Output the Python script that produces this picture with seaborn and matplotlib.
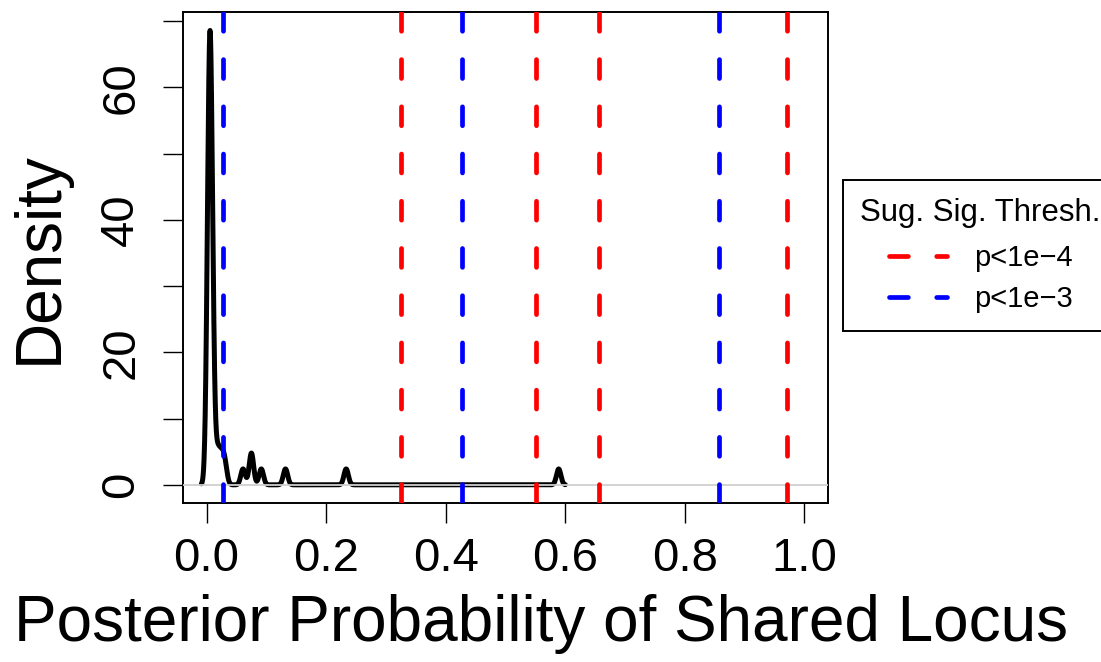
import numpy as np
import matplotlib
matplotlib.use("Agg")
import matplotlib.pyplot as plt
import seaborn as sns

# posterior probabilities of a shared locus
core_pp = [0.0025, 0.0025, 0.003, 0.003, 0.0035, 0.0035, 0.004, 0.004, 0.0045, 0.0045,
           0.005, 0.005, 0.005, 0.0055, 0.0055, 0.0055, 0.0055, 0.006, 0.006, 0.006,
           0.0065, 0.0065, 0.007, 0.007, 0.0075, 0.0075, 0.008, 0.008, 0.0085, 0.009,
           0.0095, 0.0095, 0.010]
shoulder_pp = [0.016, 0.019, 0.023, 0.027, 0.031]
tail_pp = [0.061, 0.075, 0.075, 0.0915, 0.132, 0.2335, 0.589]

# suggestive significance thresholds
thresh_p1e4 = [0.325, 0.551, 0.657, 0.971]
thresh_p1e3 = [0.028, 0.427, 0.857]

x_ticks = [0.0, 0.2, 0.4, 0.6, 0.8, 1.0]
x_labels = ["0.0", "0.2", "0.4", "0.6", "0.8", "1.0"]
y_ticks = [0, 10, 20, 30, 40, 50, 60, 70]
y_labels = ["0", "", "20", "", "40", "", "60", ""]

kde_bw = 0.0037  # bandwidth of the gaussian kernel

pp = np.array(core_pp + shoulder_pp + tail_pp)

sns.set_style("white")
plt.rcParams['font.family'] = ['Liberation Sans', 'DejaVu Sans']
plt.rcParams['text.color'] = "black"
plt.rcParams['axes.labelcolor'] = "black"

fig = plt.figure(figsize=(11.01, 6.62), dpi=100)
ax = fig.add_axes([0.1659, 0.2406, 0.7523 - 0.1659, 0.9823 - 0.2406])

#density curve, the factor is relative to the sample std like R's bw
sns.kdeplot(x=pp, ax=ax, bw_method=kde_bw / np.std(pp, ddof=1), cut=3, gridsize=4000,
            color="black", linewidth=3.6, zorder=2)
ax.lines[0].set_solid_capstyle("round")
ax.lines[0].set_solid_joinstyle("round")

ax.axhline(0, color="#cfcfcf", linewidth=1.3, zorder=3)

dash = (0, (4, 6))
for i, t in enumerate(thresh_p1e4):
    ax.axvline(t, color="#ff0000", linewidth=3.4, linestyle=dash, dash_capstyle="round",
               zorder=4, label="p<1e\u22124" if i == 0 else "_nolegend_")
for i, t in enumerate(thresh_p1e3):
    ax.axvline(t, color="#0000ff", linewidth=3.4, linestyle=dash, dash_capstyle="round",
               zorder=4, label="p<1e\u22123" if i == 0 else "_nolegend_")

ax.set_xlim(-0.04, 1.04)
ax.set_ylim(-2.7, 71.4)
ax.set_xticks(x_ticks)
ax.set_xticklabels(x_labels)
ax.set_yticks(y_ticks)
ax.set_yticklabels(y_labels, rotation=90, va="center")

ax.tick_params(axis="both", direction="out", length=14.4, width=1.0, color="black",
               labelsize=34, labelcolor="black", left=True, bottom=True)
ax.tick_params(axis="x", pad=10)
ax.tick_params(axis="y", pad=14)
for s in ax.spines.values():
    s.set_color("black")
    s.set_linewidth(1.4)

ax.set_xlabel("Posterior Probability of Shared Locus", fontsize=46)
ax.set_ylabel("Density", fontsize=46, labelpad=21)
# the x title sits a bit right of the plot centre in the original
ax.xaxis.set_label_coords(0.555, -0.185)

h, l = ax.get_legend_handles_labels()
leg = fig.legend(h, l, loc="upper left", bbox_to_anchor=(843 / 1101, 1 - 180 / 662),
                 title="Sug. Sig. Thresh.", title_fontsize=22.5, fontsize=21,
                 frameon=True, fancybox=False, edgecolor="black", framealpha=1,
                 borderpad=0.6, handlelength=2.0, handletextpad=0.9, labelspacing=0.45,
                 borderaxespad=0)
leg.get_frame().set_linewidth(1.4)
# more room between title and entries
if hasattr(leg, "_legend_box"):
    leg._legend_box.sep = 12

fig.savefig("out.png", dpi=100)
